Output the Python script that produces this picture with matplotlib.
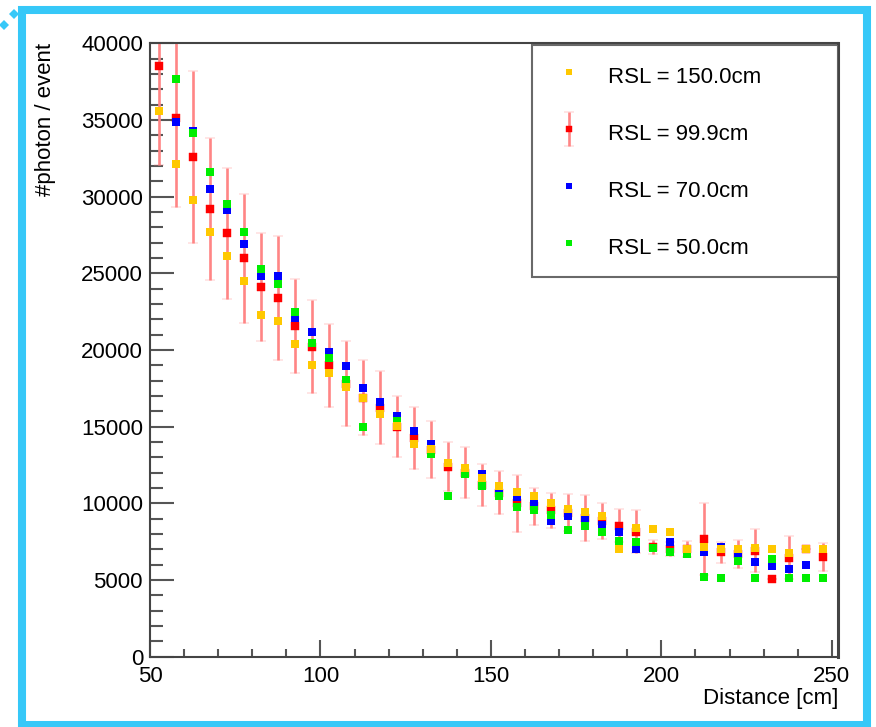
import numpy as np
import matplotlib
matplotlib.use("Agg")
import matplotlib.pyplot as plt
from matplotlib.patches import Rectangle
from matplotlib.lines import Line2D
from matplotlib.ticker import MultipleLocator
from matplotlib.legend_handler import HandlerErrorbar
from matplotlib.container import ErrorbarContainer

nan = np.nan

# bin centres [cm]
distance = [52.5, 57.5, 62.5, 67.5, 72.5, 77.5, 82.5, 87.5, 92.5, 97.5,
            102.5, 107.5, 112.5, 117.5, 122.5, 127.5, 132.5, 137.5, 142.5, 147.5,
            152.5, 157.5, 162.5, 167.5, 172.5, 177.5, 182.5, 187.5, 192.5, 197.5,
            202.5, 207.5, 212.5, 217.5, 222.5, 227.5, 232.5, 237.5, 242.5, 247.5]

# photons / event for each RSL
rsl_150 = [35600, 32100, 29800, 27700, 26100, 24500, 22300, 21900, 20400, 19000,
           18500, 17600, 16900, 15800, 15050, 13900, 13550, 12600, 12300, 11650,
           11100, 10750, 10500, 10000, 9650, 9450, 9200, 7050, 8400, 8300,
           8150, 7050, 7150, 7000, 7000, 7100, 7000, 6750, 7000, 7000]
rsl_99 = [38550, 35100, 32600, 29200, 27600, 25970, 24100, 23400, 21550, 20200,
          19000, 17800, 16900, 16250, 15000, 14250, 13500, 12400, 12000, 11200,
          10700, 10000, 9800, 9550, 9400, 9050, 8850, 8550, 8150, 7150,
          7000, 7050, 7700, 6800, 6700, 6900, 5050, 6450, 7000, 6500]
rsl_99_err = [6500, 5800, 5600, 4650, 4300, 4200, 3500, 4050, 3080, 3030,
              2700, 2760, 2420, 2370, 2000, 2030, 1860, 1590, 1670, 1370,
              1400, 1850, 1220, 1150, 1190, 1500, 1200, 1100, 1400, 450,
              450, 520, 2350, 700, 900, 1400, 0, 1400, 0, 900]
rsl_70 = [nan, 34900, 34300, 30500, 29100, 26900, 24850, 24800, 22100, 21200,
          19850, 18950, 17550, 16600, 15700, 14750, 13900, 12600, 12250, 11900,
          11000, 10400, 10050, 8850, 9200, 8950, 8600, 8150, 7000, 7100,
          7450, 7000, 6800, 7150, 6600, 6150, 5900, 5700, 5950, 5100]
rsl_50 = [nan, 37700, 34150, 31600, 29500, 27700, 25250, 24300, 22500, 20430,
          19450, 18050, 15000, 15800, 15350, 13900, 13200, 10500, 11900, 11150,
          10450, 9750, 9550, 9250, 8250, 8500, 8150, 7550, 7450, 7100,
          6850, 6700, 5200, 5100, 6250, 5100, 6400, 5100, 5100, 5100]

labels = ["RSL = 150.0cm", "RSL = 99.9cm", "RSL = 70.0cm", "RSL = 50.0cm"]

plt.rcParams["font.family"] = ["Liberation Sans", "DejaVu Sans"]

W, H = 876, 727
fig = plt.figure(figsize=(W / 100, H / 100), dpi=100)
ax = fig.add_axes([150 / W, 1 - 656.7 / H, 688 / W, 613.4 / H])

ms = 6
# red series carries the error bars (drawn first, like the ROOT "AP" graph)
eb = ax.errorbar(distance, rsl_99, yerr=rsl_99_err, fmt="s", color="#ff0000",
                 ms=5.7, mec="#ff0000", mew=0.3, ecolor="#ff8585", elinewidth=1.9,
                 capsize=3.5, capthick=1.6, zorder=2, label=labels[1])
l70, = ax.plot(distance, rsl_70, "s", color="#0000ff", ms=ms, mew=0, zorder=3)
l50, = ax.plot(distance, rsl_50, "s", color="#00ee00", ms=ms, mew=0, zorder=4)
l150, = ax.plot(distance, rsl_150, "s", color="#ffc800", ms=ms, mew=0, zorder=5)

ax.set_xlim(50, 251.8)
ax.set_ylim(0, 40000)
ax.xaxis.set_major_locator(MultipleLocator(50))
ax.xaxis.set_minor_locator(MultipleLocator(10))
ax.yaxis.set_major_locator(MultipleLocator(5000))
ax.yaxis.set_minor_locator(MultipleLocator(1000))

ax.tick_params(axis="both", which="both", direction="in", colors="#555555",
               labelcolor="black", labelsize=16, top=False, right=False)
ax.tick_params(axis="y", which="major", length=17, width=1.5, pad=5)
ax.tick_params(axis="y", which="minor", length=9, width=1.5)
ax.tick_params(axis="x", which="major", length=12, width=1.5, pad=7)
ax.tick_params(axis="x", which="minor", length=6, width=1.5)
for s in ax.spines.values():
    s.set_color("#444444")
    s.set_linewidth(1.5)
ax.spines["right"].set_linewidth(2.2)

ax.set_xlabel("Distance [cm]", fontsize=16, loc="right")
ax.set_ylabel("#photon / event", fontsize=16, loc="top")
ax.xaxis.set_label_coords(1.0, -0.051)
ax.yaxis.set_label_coords(-0.137, 1.0)

leg = ax.legend([l150, eb, l70, l50], labels, loc="upper left",
                bbox_to_anchor=(0.5548, 0.998, 0.4452, 0.0), mode="expand",
                borderaxespad=0, fontsize=16, frameon=True, fancybox=False,
                borderpad=0.75, handlelength=1.87, handleheight=1.6,
                handletextpad=0.8, labelspacing=1.28, markerscale=0.8,
                handler_map={ErrorbarContainer: HandlerErrorbar(yerr_size=0.78)})
leg.get_frame().set_edgecolor("#444444")
leg.get_frame().set_linewidth(1.5)

# cyan frame around the screenshot
fig.add_artist(Rectangle((22 / W, 1 - 725 / H), (867 - 22) / W, (725 - 10) / H,
                         transform=fig.transFigure, fill=False,
                         edgecolor="#36c8f8", linewidth=5.8))
fig.add_artist(Line2D([4 / W, 14 / W], [1 - 25 / H, 1 - 14 / H], transform=fig.transFigure,
                      ls="none", marker="D", ms=5, color="#36c8f8", mew=0))

fig.savefig("out.png", dpi=100)
